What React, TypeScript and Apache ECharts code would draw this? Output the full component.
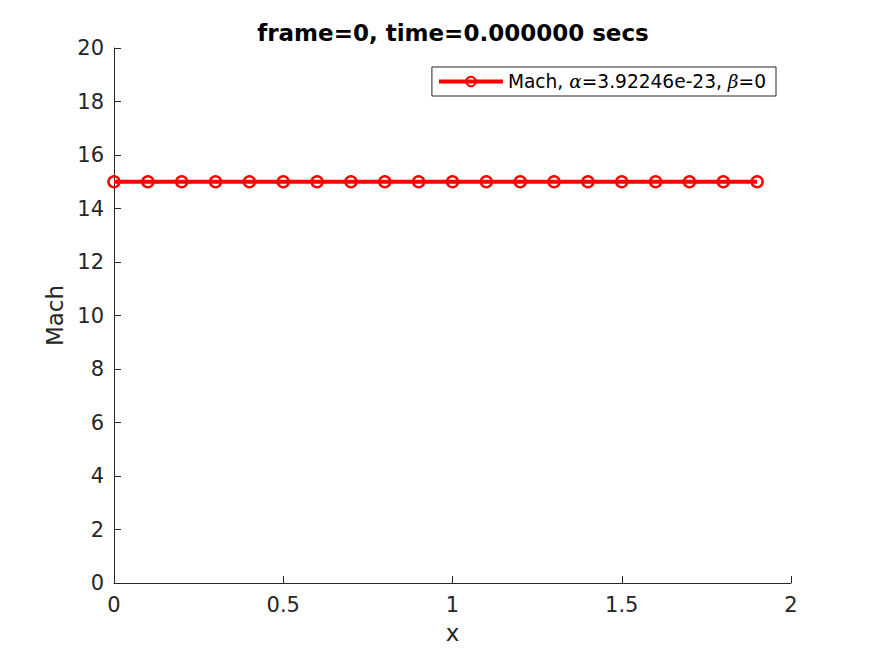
import React, { useEffect, useRef } from "react";
import * as echarts from "echarts";

const xValues = [0, 0.1, 0.2, 0.3, 0.4, 0.5, 0.6, 0.7, 0.8, 0.9, 1.0, 1.1, 1.2, 1.3, 1.4, 1.5, 1.6, 1.7, 1.8, 1.9];
const machValues = [15, 15, 15, 15, 15, 15, 15, 15, 15, 15, 15, 15, 15, 15, 15, 15, 15, 15, 15, 15];
const titleText = "frame=0, time=0.000000 secs";
const seriesName = "Mach";

export default function App() {
  const ref = useRef<HTMLDivElement>(null);
  useEffect(() => {
    if (!ref.current) return;
    const chart = echarts.init(ref.current, undefined, { renderer: "svg" });
    const axisColor = "#262626";
    const font = "DejaVu Sans";
    chart.setOption({
      animation: false,
      backgroundColor: "#ffffff",
      title: {
        text: titleText,
        left: 448,
        textAlign: "center",
        top: 16,
        textStyle: { fontFamily: font, fontSize: 23, fontWeight: "bold", color: "#000" },
      },
      grid: { left: 114, right: 84, top: 48, bottom: 73, containLabel: false },
      legend: {
        right: 99,
        top: 67,
        orient: "horizontal",
        backgroundColor: "#fff",
        borderColor: "#262626",
        borderWidth: 1,
        borderRadius: 0,
        padding: [5, 10, 5, 5],
        itemWidth: 64,
        itemHeight: 12,
        itemGap: 6,
        lineStyle: { width: 4 },
        formatter: () => "Mach, {g|α}=3.92246e-23, {g|β}=0",
        textStyle: {
          fontFamily: font,
          fontSize: 18.6,
          color: "#000",
          rich: {
            g: { fontFamily: "DejaVu Serif", fontStyle: "italic", fontSize: 18.6, color: "#000" },
          },
        },
      },
      xAxis: {
        type: "value",
        min: 0,
        max: 2,
        interval: 0.5,
        name: "x",
        nameLocation: "middle",
        nameGap: 38,
        nameTextStyle: { fontFamily: font, fontSize: 23, color: axisColor },
        axisLine: { show: true, lineStyle: { color: axisColor, width: 1 } },
        axisTick: { show: true, inside: true, length: 7, lineStyle: { color: axisColor } },
        axisLabel: { fontFamily: font, fontSize: 21, color: axisColor, margin: 11 },
        splitLine: { show: false },
      },
      yAxis: {
        type: "value",
        min: 0,
        max: 20,
        interval: 2,
        name: "Mach",
        nameLocation: "middle",
        nameGap: 46,
        nameTextStyle: { fontFamily: font, fontSize: 23, color: axisColor },
        axisLine: { show: true, lineStyle: { color: axisColor, width: 1 } },
        axisTick: { show: true, inside: true, length: 7, lineStyle: { color: axisColor } },
        axisLabel: { fontFamily: font, fontSize: 21, color: axisColor, margin: 10 },
        splitLine: { show: false },
      },
      series: [
        {
          name: seriesName,
          type: "line",
          data: xValues.map((x, i) => [x, machValues[i]]),
          symbol: "circle",
          symbolSize: 11,
          showAllSymbol: true,
          lineStyle: { color: "#ff0000", width: 4 },
          itemStyle: { color: "rgba(255,0,0,0)", borderColor: "#ff0000", borderWidth: 2.5 },
        },
      ],
    });
    return () => chart.dispose();
  }, []);
  return <div ref={ref} style={{ width: 875, height: 656, margin: -8 }} />;
}
